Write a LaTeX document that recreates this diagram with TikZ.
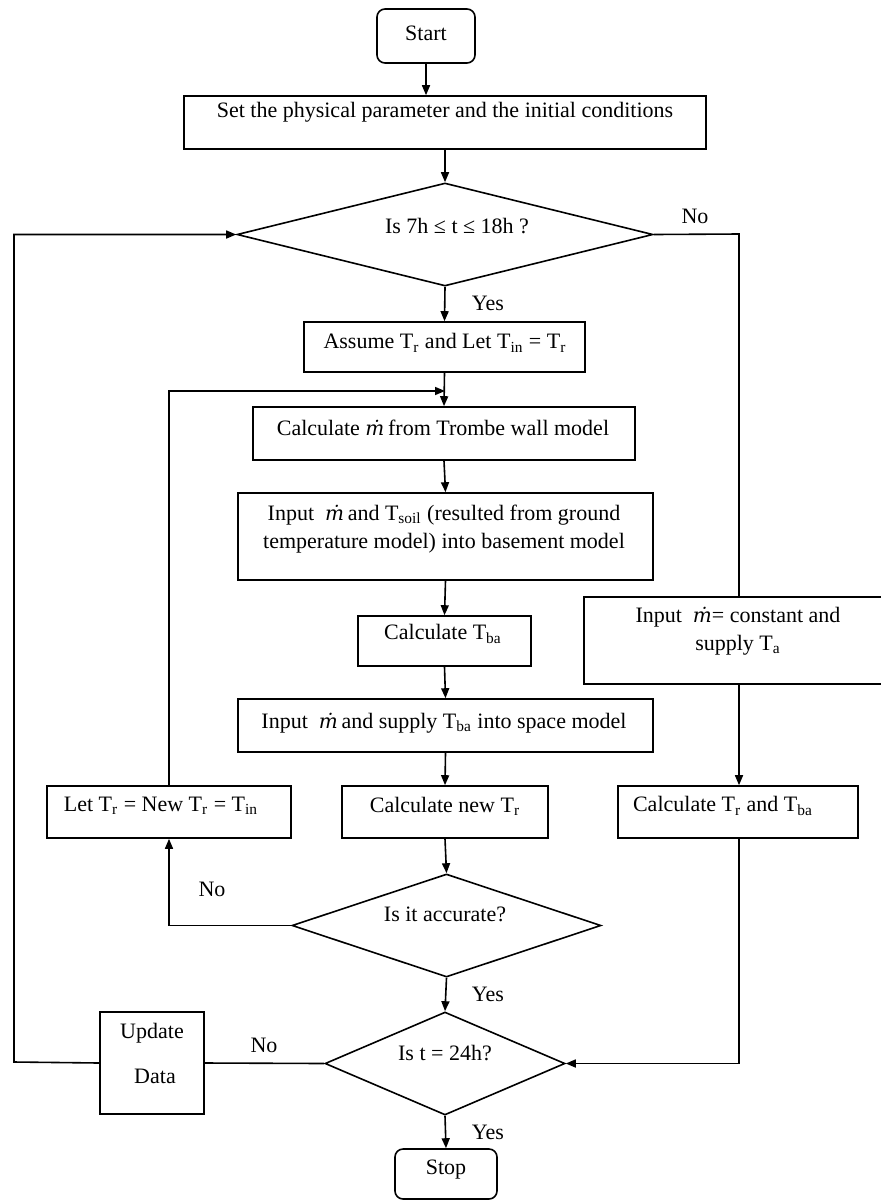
\documentclass[tikz,border=0pt]{standalone}
\usepackage{fontspec}
\setmainfont{Liberation Serif}
\newfontfamily\dejavuserif{DejaVu Serif}
\usetikzlibrary{shapes.geometric,arrows.meta,calc}
\newcommand{\mdot}{{\dejavuserif\itshape\fontsize{10}{14}\selectfont ṁ}}
\newcommand{\sub}[1]{\textsubscript{#1}}
\begin{document}
\begin{tikzpicture}[x=0.5pt,y=-0.5pt,line width=0.8pt,
  font=\fontsize{11}{14}\selectfont,
  box/.style={draw,rectangle,inner sep=0pt},
  term/.style={draw,rectangle,rounded corners=4pt,inner sep=0pt},
  dec/.style={draw,diamond,inner sep=0pt},
  txt/.style={inner sep=0pt,align=center},
  lbl/.style={inner sep=0pt},
  arr/.style={-{Triangle[length=5pt,width=4pt]}}]
\useasboundingbox (0,0) rectangle (880,1200);
% boxes
\node[term,minimum width=49pt,minimum height=27pt] (start) at (426,36) {};
\node[txt] (tstart) at (426,33) {Start};
\node[box,minimum width=261pt,minimum height=26.5pt] (set) at (445,122.5) {};
\node[txt] (tset) at (445,112) {Set the physical parameter and the initial conditions};
\node[dec,minimum width=208pt,minimum height=51.5pt] (d1) at (445,234.5) {};
\node[txt] (td1) at (457,226) {Is 7h ≤ t ≤ 18h ?};
\node[box,minimum width=140.5pt,minimum height=25pt] (assume) at (444.5,347) {};
\node[txt] (tassume) at (445,343) {Assume T\sub{r} and Let T\sub{in} = T\sub{r}};
\node[box,minimum width=191pt,minimum height=26.5pt] (calcm) at (444,433.5) {};
\node[txt] (tcalcm) at (443,428) {Calculate \mdot\,from Trombe wall model};
\node[box,minimum width=207.5pt,minimum height=43.5pt] (inbase) at (445.5,536.5) {};
\node[txt] (tinbase) at (444,529) {Input \ \mdot\,and T\sub{soil} (resulted from ground\\temperature model) into basement model};
\node[box,minimum width=86.5pt,minimum height=25pt] (calctba) at (444.5,641) {};
\node[txt] (tcalctba) at (443,634) {Calculate T\sub{ba}};
\node[box,minimum width=207.5pt,minimum height=26.5pt] (space) at (445.5,725.5) {};
\node[txt] (tspace) at (444,723) {Input \ \mdot\,and supply T\sub{ba} into space model};
\node[box,minimum width=103pt,minimum height=26pt] (newtr) at (445,812) {};
\node[txt] (tnewtr) at (445,806) {Calculate new T\sub{r}};
\node[box,minimum width=122pt,minimum height=26pt] (lettr) at (169,812) {};
\node[txt] (tlettr) at (161,806) {Let T\sub{r} = New T\sub{r} = T\sub{in}};
\node[box,minimum width=120pt,minimum height=26pt] (calctr) at (738,812) {};
\node[txt] (tcalctr) at (723,806) {Calculate T\sub{r} and T\sub{ba}};
\node[box,minimum width=150pt,minimum height=43.5pt] (inconst) at (734,640.5) {};
\node[txt] (tinconst) at (738,631) {Input \ \mdot= constant and\\supply T\sub{a}};
\node[dec,minimum width=154.5pt,minimum height=51.5pt] (d2) at (446.5,925.5) {};
\node[txt] (td2) at (445,914) {Is it accurate?};
\node[dec,minimum width=120pt,minimum height=51.5pt] (d3) at (445,1063.5) {};
\node[txt] (td3) at (445,1053) {Is t = 24h?};
\node[box,minimum width=52pt,minimum height=51pt] (update) at (152,1063) {};
\node[txt] (tupd1) at (152,1033) {Update};
\node[txt] (tupd2) at (155,1076) {Data};
\node[term,minimum width=51pt,minimum height=25pt] (stop) at (446,1174) {};
\node[txt] (tstop) at (446,1170) {Stop};
% labels
\node[lbl] (no1) at (695,216) {No};
\node[lbl] (yes1) at (488,303) {Yes};
\node[lbl] (no2) at (212,889) {No};
\node[lbl] (yes2) at (488,994) {Yes};
\node[lbl] (no3) at (264,1045) {No};
\node[lbl] (yes3) at (488,1132) {Yes};
% helper coordinates
\coordinate (j1) at (445,391);
\coordinate (rv) at (739,234);
\coordinate (lv) at (14,1062);
% connectors
\draw[arr] (start.south) -- (start.south |- set.north);
\draw[arr] (set.south) -- (d1.north);
\draw[arr] (d1.south) -- (assume.north);
\draw[arr] (assume.south) -- (calcm.north);
\draw[arr] (lettr.north) |- (j1);
\draw[arr] (calcm.south) -- (inbase.north);
\draw[arr] (inbase.south) -- (calctba.north);
\draw[arr] (calctba.south) -- (space.north);
\draw[arr] (space.south) -- (newtr.north);
\draw[arr] (newtr.south) -- (d2.north);
\draw[arr] (d2.west) -| (lettr.south);
\draw[arr] (d2.south) -- (d3.north);
\draw[arr] (d3.south) -- (stop.north);
\draw (d3.west) -- (update.east);
\draw[arr] (update.west) -- (lv) |- (d1.west);
\draw (d1.east) -- (rv) -- (rv |- inconst.north);
\draw[arr] (rv |- inconst.south) -- (rv |- calctr.north);
\draw[arr] (rv |- calctr.south) |- (d3.east);
\end{tikzpicture}
\end{document}
